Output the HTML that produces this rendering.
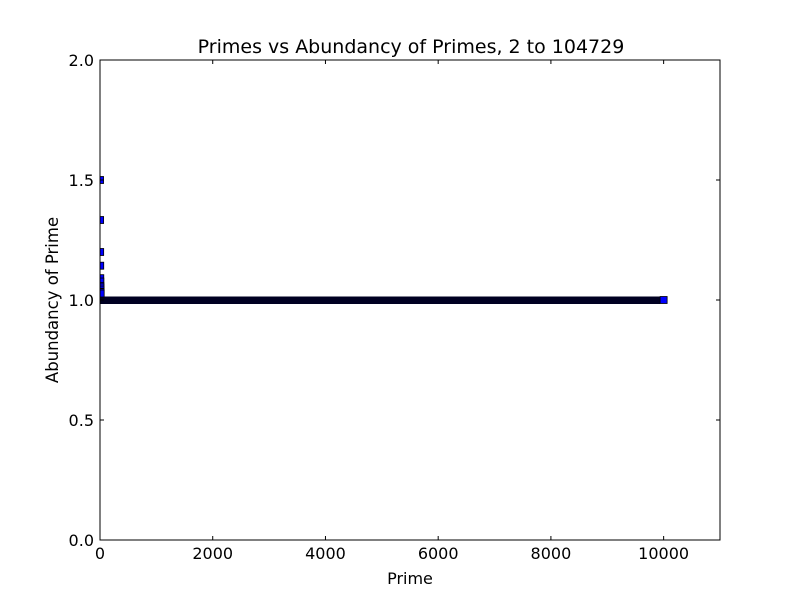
<!DOCTYPE html>
<html><head><meta charset="utf-8"><style>
body{margin:0;background:#fff}
svg text{font-family:"DejaVu Sans","Liberation Sans",sans-serif;fill:#000}
</style></head><body>
<svg id="chart" width="800" height="600" xmlns="http://www.w3.org/2000/svg">
<rect width="800" height="600" fill="#fff"/>
<defs><clipPath id="clip"><rect x="100" y="60" width="620" height="480"/></clipPath></defs>
<g id="marks" clip-path="url(#clip)"></g>
<rect x="100" y="60" width="620" height="480" fill="none" stroke="#000" stroke-width="1"/>
<g id="ticks"></g>
<text x="411" y="53" font-size="19" text-anchor="middle">Primes vs Abundancy of Primes, 2 to 104729</text>
<text x="410" y="584" font-size="16" text-anchor="middle">Prime</text>
<text x="58" y="300" font-size="16.5" text-anchor="middle" transform="rotate(-90 58 300)">Abundancy of Prime</text>
</svg>
<script>
const xTicks=[0,2000,4000,6000,8000,10000];
const yTicks=[0.0,0.5,1.0,1.5,2.0];
const headIndex=[1,2,3,4,5,6,7,8,9,10,11,12];
const headValues=[1.5,1.3333,1.2,1.1429,1.0909,1.0769,1.0588,1.0526,1.0435,1.0345,1.0323,1.027];
const tailStart=13, tailEnd=10000, tailValue=1.0;
const X0=100,X1=720,Y0=540,Y1=60,XMAX=11000,YMAX=2;
const sx=v=>X0+v/XMAX*(X1-X0);
const sy=v=>Y0-v/YMAX*(Y0-Y1);
const NS="http://www.w3.org/2000/svg";
const marks=document.getElementById('marks');
const ticks=document.getElementById('ticks');
function mk(tag,attrs,parent){const e=document.createElementNS(NS,tag);for(const k in attrs)e.setAttribute(k,attrs[k]);parent.appendChild(e);return e;}
const band=mk('rect',{x:sx(tailStart)-3.5,y:sy(tailValue)-3.5,width:sx(tailEnd)-sx(tailStart),height:7.5,fill:'#000022'},marks);


headIndex.forEach((n,i)=>{
  const r=mk('rect',{x:sx(n)-3.5,y:sy(headValues[i])-3.5,width:7,height:7,fill:'#0000ff',stroke:'#000','stroke-width':0.8},marks);
  
  
});
const last=mk('rect',{x:sx(tailEnd)-3.5,y:sy(tailValue)-3.5,width:7,height:7,fill:'#0000ff',stroke:'#000','stroke-width':0.8},marks);


xTicks.forEach(t=>{
  const x=sx(t);
  mk('line',{x1:x,x2:x,y1:540,y2:536,stroke:'#000'},ticks);
  mk('line',{x1:x,x2:x,y1:60,y2:64,stroke:'#000'},ticks);
  const tx=mk('text',{x:x,y:559,'font-size':16,'text-anchor':'middle'},ticks);
  tx.textContent=t;
  
  
});
yTicks.forEach(t=>{
  const y=sy(t);
  mk('line',{x1:100,x2:104,y1:y,y2:y,stroke:'#000'},ticks);
  mk('line',{x1:716,x2:720,y1:y,y2:y,stroke:'#000'},ticks);
  const tx=mk('text',{x:94,y:y+6,'font-size':16,'text-anchor':'end'},ticks);
  tx.textContent=t.toFixed(1);
  
  
});
</script>
</body></html>
